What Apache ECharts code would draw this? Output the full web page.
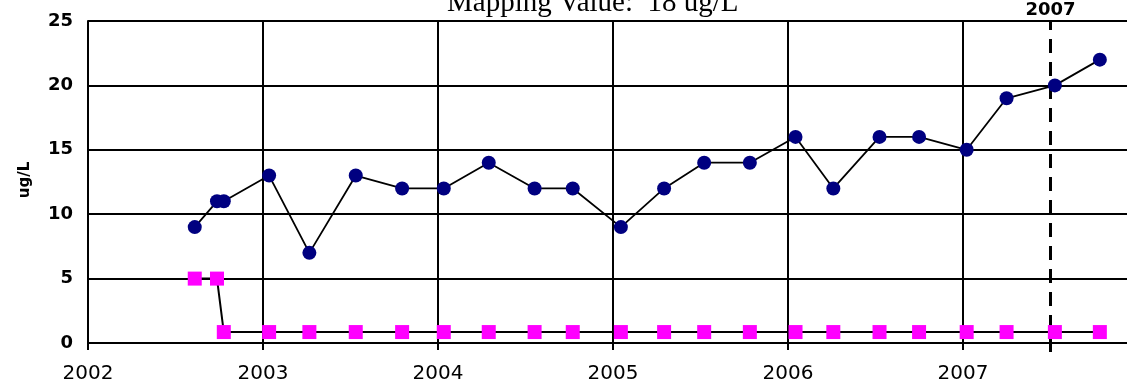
<!DOCTYPE html>
<html>
<head>
<meta charset="utf-8">
<script src="https://cdn.jsdelivr.net/npm/echarts@6/dist/echarts.min.js"></script>
<style>
html,body{margin:0;padding:0;background:#fff;overflow:hidden;}
#chart{width:1138px;height:384px;}
</style>
</head>
<body>
<div id="chart"></div>
<script>
// Sample dates (decimal years)
var sampleDates = [2002.61, 2002.737, 2002.776, 2003.035, 2003.265, 2003.53, 2003.795, 2004.033, 2004.29, 2004.552, 2004.77,
  2005.045, 2005.292, 2005.521, 2005.782, 2006.043, 2006.259, 2006.523, 2006.749, 2007.021, 2007.249, 2007.525, 2007.782];
// Measured concentrations (ug/L)
var measuredValues = [9, 11, 11, 13, 7, 13, 12, 12, 14, 12, 12, 9, 12, 14, 14, 16, 12, 16, 16, 15, 19, 20, 22];
// Reporting-limit series (ug/L)
var limitValues = [5, 5, 0.85, 0.85, 0.85, 0.85, 0.85, 0.85, 0.85, 0.85, 0.85, 0.85, 0.85, 0.85, 0.85, 0.85, 0.85, 0.85, 0.85, 0.85, 0.85, 0.85, 0.85];
// Axis settings / reference line
var xMin = 2002, xMax = 2008;
var yTicks = [0, 5, 10, 15, 20, 25];
var refYear = 2007.5;
var refLabel = '2007';
var refSpan = [-0.7, 25];
var titleText = 'Mapping Value:  18 ug/L';
var yName = 'ug/L';

function pairs(xs, ys) { return xs.map(function (x, i) { return [x, ys[i]]; }); }

var chart = echarts.init(document.getElementById('chart'), null, {renderer: 'canvas'});
chart.setOption({
  animation: false,
  backgroundColor: '#ffffff',
  title: {
    text: titleText,
    left: 447,
    top: -11,
    padding: 0,
    textStyle: {fontFamily: 'Liberation Serif', fontSize: 29, fontWeight: 'normal', color: '#000'}
  },
  grid: {left: 88, right: 0, top: 21, bottom: 41, containLabel: false},
  xAxis: {
    type: 'value',
    min: xMin, max: xMax, interval: 1,
    axisLine: {show: true, onZero: false, lineStyle: {color: '#000', width: 2}},
    axisTick: {show: true, length: 7, lineStyle: {color: '#000', width: 2}},
    splitLine: {show: true, lineStyle: {color: '#000', width: 2}},
    axisLabel: {
      showMaxLabel: false, margin: 21,
      fontFamily: 'DejaVu Sans', fontSize: 20, color: '#000',
      formatter: function (v) { return String(Math.round(v)); }
    }
  },
  yAxis: {
    type: 'value',
    min: yTicks[0], max: yTicks[yTicks.length - 1], interval: 5,
    name: yName, nameLocation: 'middle', nameRotate: 90, nameGap: 55,
    nameTextStyle: {fontFamily: 'DejaVu Sans', fontWeight: 'bold', fontSize: 15, color: '#000', padding: [0, 0, 0, 4]},
    axisLine: {show: true, lineStyle: {color: '#000', width: 2}},
    axisTick: {show: false},
    splitLine: {show: true, lineStyle: {color: '#000', width: 2}},
    axisLabel: {margin: 15, fontFamily: 'DejaVu Sans', fontWeight: 'bold', fontSize: 18, color: '#000'}
  },
  series: [
    {
      type: 'line',
      data: pairs([refYear, refYear], refSpan),
      clip: false,
      symbol: 'none',
      silent: true,
      lineStyle: {color: '#000', width: 3, type: [14, 9]},
      markPoint: {
        symbol: 'circle', symbolSize: 0,
        data: [{coord: [refYear, refSpan[1]]}],
        label: {show: true, position: 'top', distance: 2, formatter: refLabel,
          fontFamily: 'DejaVu Sans', fontWeight: 'bold', fontSize: 18, color: '#000'}
      },
      z: 3
    },
    {
      type: 'line',
      data: pairs(sampleDates, limitValues),
      symbol: 'rect', symbolSize: 14,
      itemStyle: {color: '#ff00ff'},
      lineStyle: {color: '#000', width: 2},
      z: 4
    },
    {
      type: 'line',
      data: pairs(sampleDates, measuredValues),
      symbol: 'circle', symbolSize: 14,
      itemStyle: {color: '#000080'},
      lineStyle: {color: '#000', width: 1.8},
      z: 5
    }
  ]
});
</script>
</body>
</html>
